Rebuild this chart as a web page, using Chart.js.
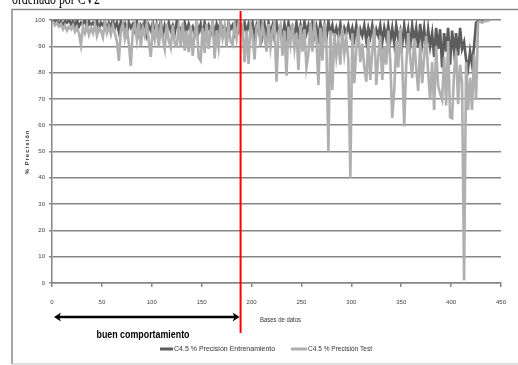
<!DOCTYPE html>
<html>
<head>
<meta charset="utf-8">
<script src="https://cdn.jsdelivr.net/npm/chart.js@4/dist/chart.umd.min.js"></script>
<style>
  body { margin: 0; background: #fff; }
  canvas { display: block; }
</style>
</head>
<body>
<canvas id="precisionChart" width="518" height="365"></canvas>
<script>
// bases de datos ordenadas por CV2 (una muestra cada 2 bases)
const baseStep = 2;
const xTicks = [0, 50, 100, 150, 200, 250, 300, 350, 400, 450];
const yTicks = [0, 10, 20, 30, 40, 50, 60, 70, 80, 90, 100];
const redLineAt = 189;

const seriesNames = ["C4.5 % Precisión Entrenamiento", "C4.5 % Precisión Test"];

const entrenamiento = [
  100, 99, 100, 98.5, 99.5, 98, 99.5, 99, 100, 98.5,
  99.5, 98, 100, 97.5, 99, 98.5, 100, 97, 99.5, 98,
  99, 97.5, 100, 96.5, 99, 98, 99.5, 96, 99, 97.5,
  100, 97, 99, 95.5, 99.5, 97, 98.5, 95, 99, 97,
  98.5, 96, 99.5, 95, 98, 96.5, 99.5, 94.5, 98, 96,
  99, 95, 98.5, 96, 99.5, 94, 98, 95.5, 99, 96,
  98, 95, 99.5, 96.5, 97, 94, 99, 95.5, 98.5, 96,
  97.5, 94.5, 99, 95.5, 98.5, 93.5, 99, 96, 98, 95,
  99, 94, 98.5, 96, 99.5, 95, 97.5, 94, 99, 96.5,
  98, 95, 99.5, 96, 98, 94.5, 99, 95, 98.5, 96,
  99, 94, 98, 95.5, 99.5, 94, 98.5, 93.5, 99, 95,
  98, 93, 99, 95, 97.5, 93, 98.5, 94, 99, 95.5,
  97.5, 93.5, 99, 94.5, 98, 93, 99.5, 95, 98, 94,
  99, 94, 97.5, 93.5, 99, 94.5, 98, 93, 99.5, 95,
  98, 93.5, 97, 94, 98.5, 92.5, 97, 95, 98, 94,
  97, 93, 98, 92.5, 96.5, 94, 98, 92, 97, 93.5,
  98, 92.5, 96.5, 94, 98, 91.5, 97, 93, 98, 92,
  97, 91, 98, 93, 96, 90.5, 98, 92, 96.5, 90,
  98, 92, 97, 89.5, 98.5, 91, 97, 88.5, 96.5, 90,
  95, 86, 97, 89, 96.5, 82, 95, 88, 97, 83,
  96, 88, 95, 86.5, 97, 89, 91.6, 85, 81.5, 88,
  83, 90, 99, 99.5, 100, 99.5, 100, 99.8, 100, 100
];

const test = [
  99.5, 98, 99, 97.5, 98.5, 96.5, 98, 96, 97.5, 96.5,
  98, 95.5, 97, 95, 90.5, 97.5, 95, 98, 94.5, 97,
  95, 98.5, 94, 97, 96, 93.5, 99, 95, 97.5, 94.5,
  98, 95, 92, 84.5, 96, 98.5, 93, 97, 91, 82.5,
  96, 98.5, 92.5, 99, 90, 97, 94, 99, 92, 86,
  97, 92.5, 99, 89.5, 98, 93, 89, 98.5, 92, 89.5,
  98, 91, 90.2, 97.5, 90, 99, 88.3, 96, 87.8, 98,
  86.4, 95, 99, 85.8, 84.5, 97, 87.5, 98.5, 89, 96,
  99, 85.4, 96, 89.7, 99, 93, 97.5, 89.7, 98, 92,
  90.5, 98.5, 93, 99, 95, 97.5, 84, 96, 83.3, 98,
  94, 85, 97.5, 99, 90, 98, 94, 88, 98.5, 89.7,
  96, 99, 76.5, 95, 98, 86.4, 96, 78.8, 97.5, 91,
  98.5, 89, 95, 81, 98, 88, 96.5, 82, 87, 99,
  88, 98.5, 93, 75.3, 97, 84.5, 99, 91, 50, 96,
  73.4, 95, 86, 92, 83, 97, 87, 93, 85, 40,
  95, 76, 89, 97, 84, 91, 82, 76.5, 93, 77.2,
  88, 97, 75.3, 86, 94, 77.2, 90, 83, 96, 85,
  62.8, 73.4, 92, 82, 97, 84, 59.5, 83, 95, 86,
  78, 93, 82, 73, 91, 76, 86, 94, 80, 69.6,
  84, 65.8, 90, 75, 72, 69.6, 86, 67.5, 92, 63,
  62.6, 80, 88, 68, 83, 76, 1, 84, 65.8, 78,
  65.8, 87, 69.6, 99, 99.5, 99, 99.5, 99.5, 99.8, 100
];

const darkGray = "#5c5c5c";
const lightGray = "#afafaf";
const gridGray = "#858585";
const sans = "'Liberation Sans', Arial, sans-serif";
const tickFont = { family: sans, size: 6 };

function toPoints(values) {
  return values.map((v, i) => ({ x: 1 + i * baseStep, y: v }));
}

const extras = {
  id: "extras",
  afterDraw(chart) {
    const ctx = chart.ctx;
    const xs = chart.scales.x;
    ctx.save();

    // marco del grafico
    ctx.lineWidth = 1.5;
    ctx.strokeStyle = "#8a8a8a";
    ctx.beginPath();
    ctx.moveTo(518, 9.5);
    ctx.lineTo(12, 9.5);
    ctx.lineTo(12, 364);
    ctx.stroke();
    ctx.strokeStyle = "#d4d4d4";
    ctx.beginPath();
    ctx.moveTo(12, 364);
    ctx.lineTo(518, 364);
    ctx.stroke();

    // titulo cortado arriba
    ctx.fillStyle = "#000";
    ctx.font = "16px 'Liberation Serif'";
    ctx.textAlign = "left";
    ctx.textBaseline = "alphabetic";
    ctx.fillText("ordenado por CV2", 12, 4, 88);

    // titulos de ejes
    ctx.fillStyle = "#333";
    ctx.font = "bold 6px " + sans;
    ctx.save();
    ctx.translate(27, 152);
    ctx.rotate(-Math.PI / 2);
    ctx.textAlign = "center";
    ctx.textBaseline = "middle";
    ctx.letterSpacing = "1px";
    ctx.fillText("% Precisión", 0, 0);
    ctx.restore();

    ctx.font = "7px " + sans;
    ctx.textAlign = "left";
    ctx.textBaseline = "middle";
    ctx.fillText("Bases de datos", 260, 320, 41);

    // linea roja
    const rx = xs.getPixelForValue(redLineAt);
    ctx.strokeStyle = "#ff0000";
    ctx.lineWidth = 2;
    ctx.beginPath();
    ctx.moveTo(rx, 11);
    ctx.lineTo(rx, 333);
    ctx.stroke();

    // flecha doble
    const ax1 = xs.getPixelForValue(2), ax2 = rx - 1, ay = 317;
    ctx.strokeStyle = "#000";
    ctx.fillStyle = "#000";
    ctx.lineWidth = 2.5;
    ctx.beginPath();
    ctx.moveTo(ax1 + 3, ay);
    ctx.lineTo(ax2 - 3, ay);
    ctx.stroke();
    [[ax1, 1], [ax2, -1]].forEach(([tx, d]) => {
      ctx.beginPath();
      ctx.moveTo(tx, ay);
      ctx.lineTo(tx + d * 7, ay - 4.5);
      ctx.lineTo(tx + d * 5, ay);
      ctx.lineTo(tx + d * 7, ay + 4.5);
      ctx.closePath();
      ctx.fill();
    });

    ctx.font = "bold 11px " + sans;
    ctx.textAlign = "center";
    ctx.textBaseline = "alphabetic";
    ctx.fillText("buen comportamiento", 143, 338, 93);

    // leyenda
    const legend = [[160, 13, darkGray, seriesNames[0], 108], [291, 16, lightGray, seriesNames[1], 64]];
    ctx.font = "7px " + sans;
    ctx.textAlign = "left";
    ctx.textBaseline = "middle";
    legend.forEach(([lx, lw, col, txt, mw]) => {
      ctx.strokeStyle = col;
      ctx.lineWidth = 3;
      ctx.beginPath();
      ctx.moveTo(lx, 349);
      ctx.lineTo(lx + lw, 349);
      ctx.stroke();
      ctx.fillStyle = "#333";
      ctx.fillText(txt, lx + lw + 1, 349, mw);
    });

    ctx.restore();
  }
};

const chart = new Chart(document.getElementById("precisionChart"), {
  type: "line",
  data: {
    datasets: [{
      label: seriesNames[0],
      data: toPoints(entrenamiento),
      borderColor: darkGray,
      borderWidth: 2.6,
      pointRadius: 0,
      order: 1
    }, {
      label: seriesNames[1],
      data: toPoints(test),
      borderColor: lightGray,
      borderWidth: 2.6,
      pointRadius: 0,
      order: 0
    }]
  },
  options: {
    responsive: false,
    devicePixelRatio: 1,
    animation: false,
    layout: { padding: { left: 12, right: 9, top: 20, bottom: 0 } },
    plugins: { legend: { display: false }, tooltip: { enabled: false } },
    scales: {
      x: {
        type: "linear",
        min: 0,
        max: 450,
        afterFit: s => { s.height = 82; },
        afterBuildTicks: s => { s.ticks = xTicks.map(v => ({ value: v })); },
        ticks: { font: tickFont, color: "#404040", padding: 12, maxRotation: 0 },
        grid: { drawOnChartArea: false, tickLength: 4, color: gridGray, lineWidth: 1.5 },
        border: { color: gridGray, width: 1.5 }
      },
      y: {
        min: 0,
        max: 100,
        afterFit: s => { s.width = 40; },
        afterBuildTicks: s => { s.ticks = yTicks.map(v => ({ value: v })); },
        ticks: { font: tickFont, color: "#404040", padding: 4 },
        grid: { tickLength: 3, color: gridGray, lineWidth: 1.6 },
        border: { color: gridGray, width: 1.5 }
      }
    }
  },
  plugins: [extras]
});
</script>
</body>
</html>
